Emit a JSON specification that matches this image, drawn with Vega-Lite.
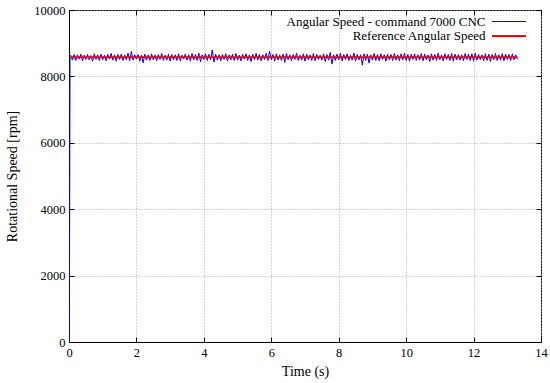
{
  "$schema": "https://vega.github.io/schema/vega-lite/v6.json",
  "width": 472,
  "height": 332,
  "autosize": {"type": "none"},
  "padding": {"left": 69, "top": 10, "right": 9, "bottom": 41},
  "background": "white",
  "config": {
    "font": "Liberation Serif",
    "view": {"stroke": "black", "strokeWidth": 1},
    "axis": {
      "labelFont": "Liberation Serif",
      "labelFontSize": 12.5,
      "labelColor": "black",
      "titleFont": "Liberation Serif",
      "titleFontSize": 14,
      "titleFontWeight": "normal",
      "titleColor": "black",
      "domainColor": "black",
      "tickColor": "black",
      "gridColor": "#a8a8a8",
      "gridDash": [1, 2],
      "gridWidth": 1,
      "tickSize": -5,
      "labelPadding": 9
    },
    "legend": {
      "orient": "none",
      "legendX": 433,
      "legendY": 5,
      "padding": 0,
      "title": null,
      "symbolType": "M-3,0H3",
      "symbolSize": 128,
      "labelAlign": "right",
      "labelOffset": -30.5,
      "labelLimit": 0,
      "labelFont": "Liberation Serif",
      "labelFontSize": 13,
      "labelColor": "black",
      "rowPadding": -1
    }
  },
  "datasets": {
    "speed": [
      {"t": 0.01, "v": 0}, {"t": 0.03, "v": 8620},
      {"t": 0.05, "v": 8640}, {"t": 0.10, "v": 8490}, {"t": 0.15, "v": 8660}, {"t": 0.20, "v": 8480}, {"t": 0.25, "v": 8650}, {"t": 0.30, "v": 8520}, {"t": 0.35, "v": 8670}, {"t": 0.40, "v": 8470}, {"t": 0.45, "v": 8640}, {"t": 0.50, "v": 8510},
      {"t": 0.55, "v": 8660}, {"t": 0.60, "v": 8500}, {"t": 0.65, "v": 8630}, {"t": 0.70, "v": 8460}, {"t": 0.75, "v": 8680}, {"t": 0.80, "v": 8510}, {"t": 0.85, "v": 8650}, {"t": 0.90, "v": 8480}, {"t": 0.95, "v": 8670}, {"t": 1.00, "v": 8500},
      {"t": 1.05, "v": 8640}, {"t": 1.10, "v": 8470}, {"t": 1.15, "v": 8660}, {"t": 1.20, "v": 8520}, {"t": 1.25, "v": 8690}, {"t": 1.30, "v": 8490}, {"t": 1.35, "v": 8650}, {"t": 1.40, "v": 8460}, {"t": 1.45, "v": 8660}, {"t": 1.50, "v": 8510},
      {"t": 1.55, "v": 8670}, {"t": 1.60, "v": 8480}, {"t": 1.65, "v": 8640}, {"t": 1.70, "v": 8500}, {"t": 1.75, "v": 8700}, {"t": 1.80, "v": 8470}, {"t": 1.85, "v": 8750}, {"t": 1.90, "v": 8490}, {"t": 1.95, "v": 8650}, {"t": 2.00, "v": 8520},
      {"t": 2.05, "v": 8660}, {"t": 2.10, "v": 8460}, {"t": 2.15, "v": 8640}, {"t": 2.20, "v": 8410}, {"t": 2.25, "v": 8670}, {"t": 2.30, "v": 8490}, {"t": 2.35, "v": 8650}, {"t": 2.40, "v": 8480}, {"t": 2.45, "v": 8680}, {"t": 2.50, "v": 8500},
      {"t": 2.55, "v": 8650}, {"t": 2.60, "v": 8470}, {"t": 2.65, "v": 8660}, {"t": 2.70, "v": 8510}, {"t": 2.75, "v": 8690}, {"t": 2.80, "v": 8480}, {"t": 2.85, "v": 8640}, {"t": 2.90, "v": 8490}, {"t": 2.95, "v": 8670}, {"t": 3.00, "v": 8460},
      {"t": 3.05, "v": 8660}, {"t": 3.10, "v": 8500}, {"t": 3.15, "v": 8650}, {"t": 3.20, "v": 8480}, {"t": 3.25, "v": 8680}, {"t": 3.30, "v": 8470}, {"t": 3.35, "v": 8640}, {"t": 3.40, "v": 8520}, {"t": 3.45, "v": 8670}, {"t": 3.50, "v": 8490},
      {"t": 3.55, "v": 8650}, {"t": 3.60, "v": 8460}, {"t": 3.65, "v": 8690}, {"t": 3.70, "v": 8500}, {"t": 3.75, "v": 8660}, {"t": 3.80, "v": 8480}, {"t": 3.85, "v": 8700}, {"t": 3.90, "v": 8440}, {"t": 3.95, "v": 8650}, {"t": 4.00, "v": 8510},
      {"t": 4.05, "v": 8680}, {"t": 4.10, "v": 8480}, {"t": 4.15, "v": 8660}, {"t": 4.20, "v": 8500}, {"t": 4.25, "v": 8800}, {"t": 4.30, "v": 8430}, {"t": 4.35, "v": 8670}, {"t": 4.40, "v": 8490}, {"t": 4.45, "v": 8650}, {"t": 4.50, "v": 8470},
      {"t": 4.55, "v": 8660}, {"t": 4.60, "v": 8510}, {"t": 4.65, "v": 8680}, {"t": 4.70, "v": 8460}, {"t": 4.75, "v": 8650}, {"t": 4.80, "v": 8500}, {"t": 4.85, "v": 8670}, {"t": 4.90, "v": 8480}, {"t": 4.95, "v": 8690}, {"t": 5.00, "v": 8490},
      {"t": 5.05, "v": 8640}, {"t": 5.10, "v": 8470}, {"t": 5.15, "v": 8660}, {"t": 5.20, "v": 8520}, {"t": 5.25, "v": 8680}, {"t": 5.30, "v": 8480}, {"t": 5.35, "v": 8650}, {"t": 5.40, "v": 8450}, {"t": 5.45, "v": 8670}, {"t": 5.50, "v": 8500},
      {"t": 5.55, "v": 8690}, {"t": 5.60, "v": 8490}, {"t": 5.65, "v": 8660}, {"t": 5.70, "v": 8470}, {"t": 5.75, "v": 8650}, {"t": 5.80, "v": 8510}, {"t": 5.85, "v": 8700}, {"t": 5.90, "v": 8480}, {"t": 5.95, "v": 8760}, {"t": 6.00, "v": 8500},
      {"t": 6.05, "v": 8660}, {"t": 6.10, "v": 8460}, {"t": 6.15, "v": 8680}, {"t": 6.20, "v": 8490}, {"t": 6.25, "v": 8650}, {"t": 6.30, "v": 8480}, {"t": 6.35, "v": 8670}, {"t": 6.40, "v": 8420}, {"t": 6.45, "v": 8690}, {"t": 6.50, "v": 8500},
      {"t": 6.55, "v": 8650}, {"t": 6.60, "v": 8470}, {"t": 6.65, "v": 8660}, {"t": 6.70, "v": 8510}, {"t": 6.75, "v": 8700}, {"t": 6.80, "v": 8480}, {"t": 6.85, "v": 8640}, {"t": 6.90, "v": 8490}, {"t": 6.95, "v": 8680}, {"t": 7.00, "v": 8460},
      {"t": 7.05, "v": 8670}, {"t": 7.10, "v": 8500}, {"t": 7.15, "v": 8650}, {"t": 7.20, "v": 8480}, {"t": 7.25, "v": 8690}, {"t": 7.30, "v": 8470}, {"t": 7.35, "v": 8660}, {"t": 7.40, "v": 8510}, {"t": 7.45, "v": 8640}, {"t": 7.50, "v": 8490},
      {"t": 7.55, "v": 8680}, {"t": 7.60, "v": 8450}, {"t": 7.65, "v": 8660}, {"t": 7.70, "v": 8490}, {"t": 7.75, "v": 8720}, {"t": 7.80, "v": 8370}, {"t": 7.85, "v": 8650}, {"t": 7.90, "v": 8480}, {"t": 7.95, "v": 8670}, {"t": 8.00, "v": 8500},
      {"t": 8.05, "v": 8690}, {"t": 8.10, "v": 8470}, {"t": 8.15, "v": 8660}, {"t": 8.20, "v": 8510}, {"t": 8.25, "v": 8680}, {"t": 8.30, "v": 8480}, {"t": 8.35, "v": 8640}, {"t": 8.40, "v": 8490}, {"t": 8.45, "v": 8700}, {"t": 8.50, "v": 8460},
      {"t": 8.55, "v": 8660}, {"t": 8.60, "v": 8500}, {"t": 8.65, "v": 8650}, {"t": 8.70, "v": 8340}, {"t": 8.75, "v": 8680}, {"t": 8.80, "v": 8480}, {"t": 8.85, "v": 8670}, {"t": 8.90, "v": 8400}, {"t": 8.95, "v": 8650}, {"t": 9.00, "v": 8490},
      {"t": 9.05, "v": 8690}, {"t": 9.10, "v": 8480}, {"t": 9.15, "v": 8660}, {"t": 9.20, "v": 8470}, {"t": 9.25, "v": 8680}, {"t": 9.30, "v": 8510}, {"t": 9.35, "v": 8650}, {"t": 9.40, "v": 8460}, {"t": 9.45, "v": 8670}, {"t": 9.50, "v": 8500},
      {"t": 9.55, "v": 8660}, {"t": 9.60, "v": 8480}, {"t": 9.65, "v": 8690}, {"t": 9.70, "v": 8490}, {"t": 9.75, "v": 8650}, {"t": 9.80, "v": 8470}, {"t": 9.85, "v": 8680}, {"t": 9.90, "v": 8500}, {"t": 9.95, "v": 8700}, {"t": 10.00, "v": 8480},
      {"t": 10.05, "v": 8660}, {"t": 10.10, "v": 8460}, {"t": 10.15, "v": 8670}, {"t": 10.20, "v": 8510}, {"t": 10.25, "v": 8680}, {"t": 10.30, "v": 8480}, {"t": 10.35, "v": 8650}, {"t": 10.40, "v": 8490}, {"t": 10.45, "v": 8690}, {"t": 10.50, "v": 8470},
      {"t": 10.55, "v": 8670}, {"t": 10.60, "v": 8500}, {"t": 10.65, "v": 8650}, {"t": 10.70, "v": 8450}, {"t": 10.75, "v": 8680}, {"t": 10.80, "v": 8490}, {"t": 10.85, "v": 8660}, {"t": 10.90, "v": 8480}, {"t": 10.95, "v": 8700}, {"t": 11.00, "v": 8500},
      {"t": 11.05, "v": 8650}, {"t": 11.10, "v": 8470}, {"t": 11.15, "v": 8680}, {"t": 11.20, "v": 8510}, {"t": 11.25, "v": 8660}, {"t": 11.30, "v": 8480}, {"t": 11.35, "v": 8690}, {"t": 11.40, "v": 8460}, {"t": 11.45, "v": 8670}, {"t": 11.50, "v": 8500},
      {"t": 11.55, "v": 8660}, {"t": 11.60, "v": 8490}, {"t": 11.65, "v": 8650}, {"t": 11.70, "v": 8470}, {"t": 11.75, "v": 8690}, {"t": 11.80, "v": 8510}, {"t": 11.85, "v": 8670}, {"t": 11.90, "v": 8480}, {"t": 11.95, "v": 8680}, {"t": 12.00, "v": 8460},
      {"t": 12.05, "v": 8700}, {"t": 12.10, "v": 8490}, {"t": 12.15, "v": 8660}, {"t": 12.20, "v": 8500}, {"t": 12.25, "v": 8650}, {"t": 12.30, "v": 8470}, {"t": 12.35, "v": 8680}, {"t": 12.40, "v": 8480}, {"t": 12.45, "v": 8670}, {"t": 12.50, "v": 8450},
      {"t": 12.55, "v": 8660}, {"t": 12.60, "v": 8500}, {"t": 12.65, "v": 8690}, {"t": 12.70, "v": 8480}, {"t": 12.75, "v": 8650}, {"t": 12.80, "v": 8490}, {"t": 12.85, "v": 8680}, {"t": 12.90, "v": 8470}, {"t": 12.95, "v": 8670}, {"t": 13.00, "v": 8510},
      {"t": 13.05, "v": 8660}, {"t": 13.10, "v": 8480}, {"t": 13.15, "v": 8680}, {"t": 13.20, "v": 8500}, {"t": 13.25, "v": 8650}, {"t": 13.30, "v": 8520}
    ],
    "reference": [
      {"t": 0.05, "v": 8580},
      {"t": 13.30, "v": 8580}
    ]
  },
  "layer": [
    {
      "data": {"name": "speed"},
      "mark": {"type": "line", "interpolate": "linear", "clip": true},
      "encoding": {
        "x": {
          "field": "t", "type": "quantitative",
          "scale": {"domain": [0, 14], "nice": false, "zero": false},
          "axis": {"values": [0, 2, 4, 6, 8, 10, 12, 14], "title": "Time (s)", "grid": true, "titlePadding": 6, "labelFlush": false}
        },
        "y": {
          "field": "v", "type": "quantitative",
          "scale": {"domain": [0, 10000], "nice": false},
          "axis": {"values": [0, 2000, 4000, 6000, 8000, 10000], "title": "Rotational Speed [rpm]", "grid": true, "titlePadding": 14, "format": "d", "labelFlush": false}
        },
        "color": {
          "datum": "Angular Speed - command 7000 CNC",
          "type": "nominal",
          "scale": {"domain": ["Angular Speed - command 7000 CNC", "Reference Angular Speed"], "range": ["#0000ff", "#ff0000"]}
        },
        "strokeWidth": {
          "datum": "Angular Speed - command 7000 CNC",
          "type": "nominal",
          "scale": {"domain": ["Angular Speed - command 7000 CNC", "Reference Angular Speed"], "range": [1, 2]}
        }
      }
    },
    {
      "data": {"name": "reference"},
      "mark": {"type": "line", "clip": true},
      "encoding": {
        "x": {
          "field": "t", "type": "quantitative",
          "axis": {"orient": "top", "values": [0, 2, 4, 6, 8, 10, 12, 14], "labels": false, "title": null, "grid": false, "domain": false}
        },
        "y": {
          "field": "v", "type": "quantitative",
          "axis": {"orient": "right", "values": [0, 2000, 4000, 6000, 8000, 10000], "labels": false, "title": null, "grid": false, "domain": false}
        },
        "color": {"datum": "Reference Angular Speed", "type": "nominal"},
        "strokeWidth": {"datum": "Reference Angular Speed", "type": "nominal"}
      }
    }
  ],
  "resolve": {"axis": {"x": "independent", "y": "independent"}}
}
